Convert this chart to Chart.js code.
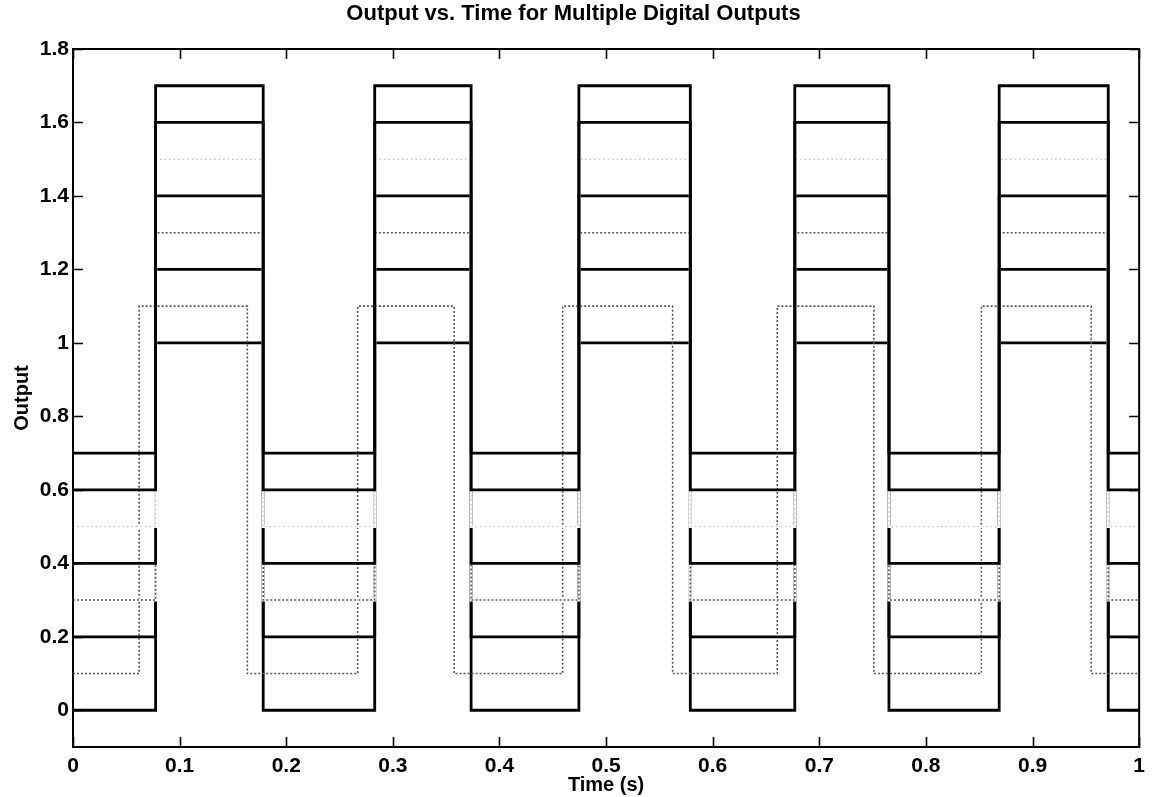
<!DOCTYPE html>
<html>
<head>
<meta charset="utf-8">
<title>Output vs. Time for Multiple Digital Outputs</title>
<script src="https://cdn.jsdelivr.net/npm/chart.js@4.4.1/dist/chart.umd.min.js"></script>
<style>
  html, body { margin: 0; padding: 0; background: #fff; }
  #wrap { width: 1152px; height: 797px; }
</style>
</head>
<body>
<div id="wrap"><canvas id="outChart" width="1152" height="797"></canvas></div>
<script>
// switching instants (s)
const tMain = [0, 0.0775, 0.1784, 0.283, 0.3734, 0.4745, 0.579, 0.677, 0.7653, 0.8687, 0.971, 1];
const tLead = [0, 0.062, 0.1635, 0.267, 0.3575, 0.4593, 0.5624, 0.6606, 0.7512, 0.852, 0.955, 1];

// output levels at each instant
const out0 = [0, 1, 0, 1, 0, 1, 0, 1, 0, 1, 0, 0];
const out1 = [0.1, 1.1, 0.1, 1.1, 0.1, 1.1, 0.1, 1.1, 0.1, 1.1, 0.1, 0.1];
const out2 = [0.2, 1.2, 0.2, 1.2, 0.2, 1.2, 0.2, 1.2, 0.2, 1.2, 0.2, 0.2];
const out3 = [0.3, 1.3, 0.3, 1.3, 0.3, 1.3, 0.3, 1.3, 0.3, 1.3, 0.3, 0.3];
const out4 = [0.4, 1.4, 0.4, 1.4, 0.4, 1.4, 0.4, 1.4, 0.4, 1.4, 0.4, 0.4];
const out5 = [0.5, 1.5, 0.5, 1.5, 0.5, 1.5, 0.5, 1.5, 0.5, 1.5, 0.5, 0.5];
const out6 = [0.6, 1.6, 0.6, 1.6, 0.6, 1.6, 0.6, 1.6, 0.6, 1.6, 0.6, 0.6];
const out7 = [0.7, 1.7, 0.7, 1.7, 0.7, 1.7, 0.7, 1.7, 0.7, 1.7, 0.7, 0.7];

const xTickVals = [0, 0.1, 0.2, 0.3, 0.4, 0.5, 0.6, 0.7, 0.8, 0.9, 1];
const xTickLabels = ['0', '0.1', '0.2', '0.3', '0.4', '0.5', '0.6', '0.7', '0.8', '0.9', '1'];
const yTickVals = [0, 0.2, 0.4, 0.6, 0.8, 1, 1.2, 1.4, 1.6, 1.8];
const yTickLabels = ['0', '0.2', '0.4', '0.6', '0.8', '1', '1.2', '1.4', '1.6', '1.8'];

const FONT = "'Liberation Sans', Arial, Helvetica, sans-serif";

function pts(times, levels) {
  return times.map((t, i) => ({ x: t, y: levels[i] }));
}

// style per output, in drawing order (later ones end up on top)
const solid = { borderColor: '#000', borderWidth: 2.8 };
const dotted = { borderColor: '#555', borderWidth: 1.6, borderDash: [2, 2] };
const faint = { borderColor: '#c8c8c8', borderWidth: 1.4, borderDash: [1.5, 3] };

const series = [
  { times: tMain, levels: out0, style: solid },
  { times: tLead, levels: out1, style: dotted },
  { times: tMain, levels: out2, style: solid },
  { times: tMain, levels: out3, style: dotted, cover: true },
  { times: tMain, levels: out4, style: solid },
  { times: tMain, levels: out5, style: faint, cover: true },
  { times: tMain, levels: out6, style: solid },
  { times: tMain, levels: out7, style: solid }
];

const layers = [];
series.forEach(s => {
  if (s.cover) {
    // the light traces sit over the black ones in the original print
    layers.push({ data: pts(s.times, s.levels), borderColor: '#fff', borderWidth: 3 });
  }
  layers.push(Object.assign({ data: pts(s.times, s.levels) }, s.style));
});
const datasets = layers.map((d, i) => Object.assign({
  stepped: 'before',
  pointRadius: 0,
  fill: false,
  order: layers.length - i
}, d));

// box round the plot with ticks pointing inward, like the original
const boxTicks = {
  id: 'boxTicks',
  afterDatasetsDraw(chart) {
    const { ctx, chartArea: a, scales } = chart;
    const len = 10;
    ctx.save();
    ctx.strokeStyle = '#000';
    ctx.lineWidth = 1.6;
    ctx.beginPath();
    scales.x.ticks.forEach(t => {
      const px = Math.round(scales.x.getPixelForValue(t.value)) + 0.5;
      ctx.moveTo(px, a.bottom); ctx.lineTo(px, a.bottom - len);
      ctx.moveTo(px, a.top); ctx.lineTo(px, a.top + len);
    });
    scales.y.ticks.forEach(t => {
      const py = Math.round(scales.y.getPixelForValue(t.value)) + 0.5;
      ctx.moveTo(a.left, py); ctx.lineTo(a.left + len, py);
      ctx.moveTo(a.right, py); ctx.lineTo(a.right - len, py);
    });
    ctx.stroke();
    ctx.lineWidth = 2;
    ctx.strokeRect(a.left, a.top, a.right - a.left, a.bottom - a.top);
    ctx.restore();
  }
};

new Chart(document.getElementById('outChart').getContext('2d'), {
  type: 'line',
  data: { datasets: datasets },
  options: {
    responsive: false,
    animation: false,
    layout: { padding: { left: 0, right: 5, top: 0, bottom: 0 } },
    plugins: {
      legend: { display: false },
      tooltip: { enabled: false },
      title: {
        display: true,
        text: 'Output vs. Time for Multiple Digital Outputs',
        color: '#000',
        font: { family: FONT, size: 22, weight: 'bold' },
        padding: { top: 1, bottom: 21.6 }
      }
    },
    scales: {
      x: {
        type: 'linear',
        min: 0,
        max: 1,
        afterBuildTicks: s => { s.ticks = xTickVals.map(v => ({ value: v })); },
        afterFit: s => { s.height = 50; },
        grid: { display: false, drawTicks: false },
        border: { display: false },
        ticks: {
          autoSkip: false,
          maxRotation: 0,
          padding: 7,
          color: '#000',
          font: { family: FONT, size: 21, weight: 'bold' },
          callback: (v, i) => xTickLabels[i]
        },
        title: {
          display: true,
          text: 'Time (s)',
          color: '#000',
          font: { family: FONT, size: 20, weight: 'bold' },
          padding: { top: 0, bottom: 0 }
        }
      },
      y: {
        type: 'linear',
        min: -0.1,
        max: 1.8,
        afterBuildTicks: s => { s.ticks = yTickVals.map(v => ({ value: v })); },
        afterFit: s => { s.width = 73; },
        grid: { display: false, drawTicks: false },
        border: { display: false },
        ticks: {
          autoSkip: false,
          padding: 4,
          color: '#000',
          font: { family: FONT, size: 21, weight: 'bold' },
          callback: (v, i) => yTickLabels[i]
        },
        title: {
          display: true,
          text: 'Output',
          color: '#000',
          font: { family: FONT, size: 20, weight: 'bold' },
          padding: { top: 10, bottom: 0 }
        }
      }
    }
  },
  plugins: [boxTicks]
});
</script>
</body>
</html>
